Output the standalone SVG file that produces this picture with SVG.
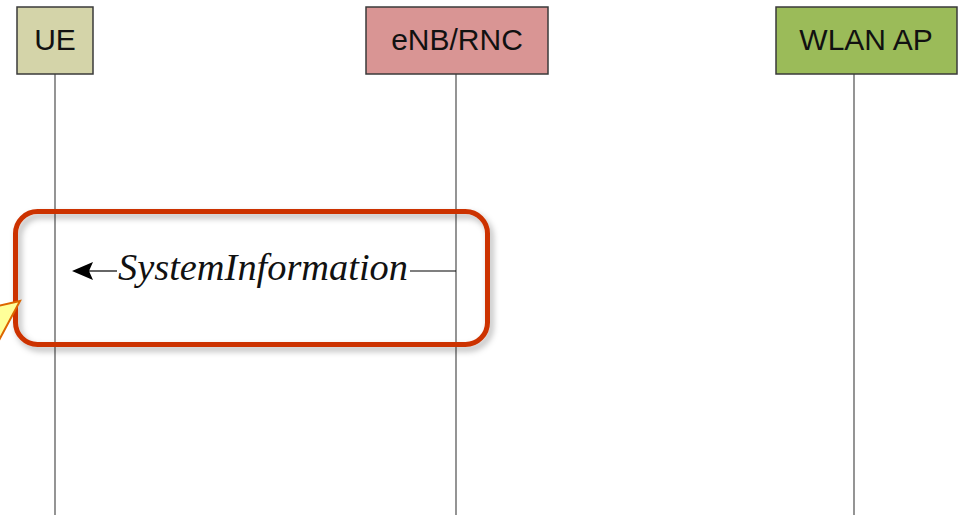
<svg xmlns="http://www.w3.org/2000/svg" width="958" height="515" viewBox="0 0 958 515">
<style>
.box{stroke:#3a3a3a;stroke-width:1.5}
.lbl{font-family:"Liberation Sans",Arial,sans-serif;font-size:30px;fill:#111;text-anchor:middle}
.life{stroke:#7a7a7a;stroke-width:1.6;fill:none}
.msg{stroke:#000;stroke-width:1.2;fill:none}
.msgtxt{font-family:"Liberation Serif","Times New Roman",serif;font-style:italic;font-size:38px;fill:#111}
</style>
<defs>
<filter id="shadow" x="-10%" y="-20%" width="120%" height="140%">
<feDropShadow dx="3" dy="4" stdDeviation="3" flood-color="#000" flood-opacity="0.3"/>
</filter>
</defs>
<g id="lifelines">
<line class="life" x1="55" y1="74" x2="55" y2="515"/>
<line class="life" x1="456" y1="74" x2="456" y2="515"/>
<line class="life" x1="854" y1="74" x2="854" y2="515"/>
</g>
<g id="node-ue">
<rect class="box" x="17" y="7" width="76" height="67" fill="#d4d4a9"/>
<text class="lbl" x="55" y="50">UE</text>
</g>
<g id="node-enb">
<rect class="box" x="366" y="7" width="182" height="67" fill="#d99594"/>
<text class="lbl" x="457" y="50">eNB/RNC</text>
</g>
<g id="node-wlan">
<rect class="box" x="776" y="7" width="181" height="67" fill="#9bbb59"/>
<text class="lbl" x="866" y="50">WLAN AP</text>
</g>
<g id="connectors">
<line class="msg" x1="456" y1="271" x2="410" y2="271"/>
<line class="msg" x1="117" y1="271" x2="88" y2="271"/>
<path d="M72,271 L93,262 L89,271 L93,280 Z" fill="#000"/>
<text class="msgtxt" x="118" y="280" textLength="290" lengthAdjust="spacingAndGlyphs">SystemInformation</text>
</g>
<g id="highlight">
<rect x="15.5" y="211.5" width="472" height="133" rx="22" ry="22" fill="none" stroke="#cc3300" stroke-width="5" filter="url(#shadow)"/>
<polygon points="-2,306 20,301 -2,342" fill="#ffff99" stroke="#dd6600" stroke-width="2"/>
</g>
</svg>
